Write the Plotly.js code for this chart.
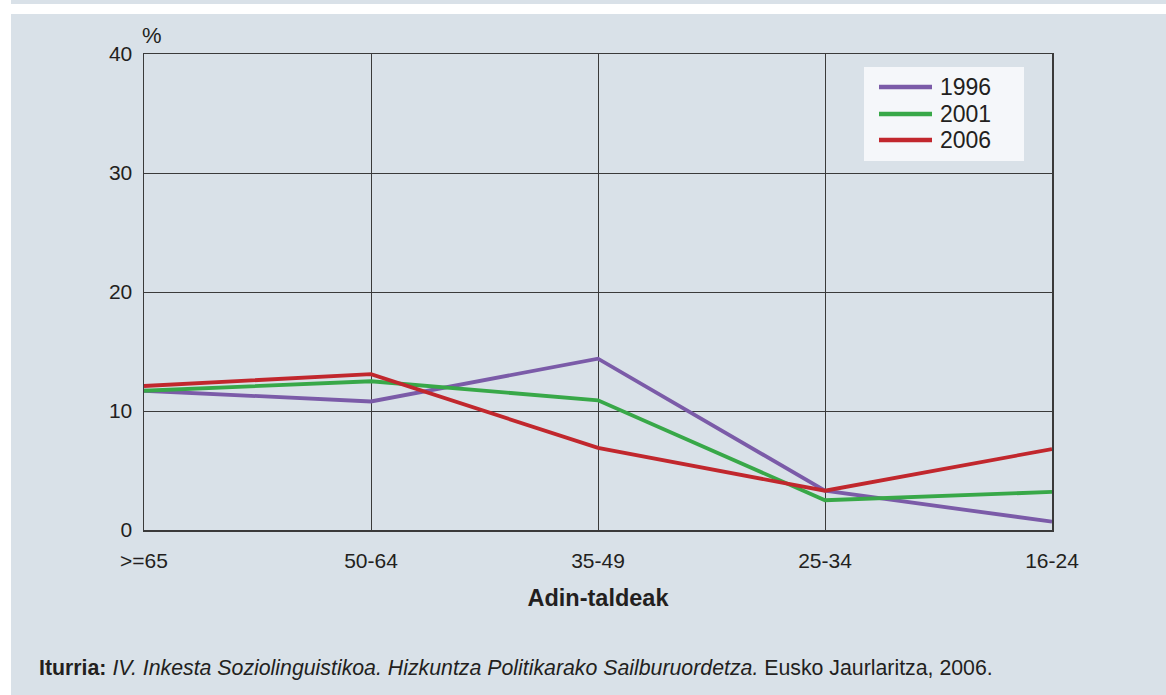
<!DOCTYPE html>
<html>
<head>
<meta charset="utf-8">
<script src="https://cdn.plot.ly/plotly-3.0.1.min.js"></script>
<style>
html,body{margin:0;padding:0;background:#fff;}
#chart{width:1166px;height:695px;}
</style>
</head>
<body>
<div id="chart"></div>
<script>
const categories = [">=65", "50-64", "35-49", "25-34", "16-24"];
const series1996 = [11.7, 10.8, 14.4, 3.3, 0.7];
const series2001 = [11.7, 12.5, 10.9, 2.5, 3.2];
const series2006 = [12.1, 13.1, 6.9, 3.3, 6.8];
const seriesNames = ["1996", "2001", "2006"];
const seriesColors = ["#7b5ba8", "#38a848", "#c1272d"];
const yTicks = [0, 10, 20, 30, 40];
const xTitle = "Adin-taldeak";
const yUnit = "%";
const sourceText = "<b>Iturria:</b> <i>IV. Inkesta Soziolinguistikoa. Hizkuntza Politikarako Sailburuordetza.</i> Eusko Jaurlaritza, 2006.";

const allSeries = [series1996, series2001, series2006];
const traces = allSeries.map((vals, i) => ({
  x: categories,
  y: vals,
  type: "scatter",
  mode: "lines",
  name: seriesNames[i],
  line: {color: seriesColors[i], width: 3.8}
}));

const W = 1166, H = 695;
const L = 144, R = 1052, T = 54, B = 530;
const pw = R - L, ph = B - T;
const px = v => (v - L) / pw;
const py = v => (B - v) / ph;
const font = "Liberation Sans, Arial, sans-serif";
const txt = "#231f20";
const bg = "#d9e1e8";

// custom legend box (shapes + annotations built from series names/colors)
const legShapes = [{type: "rect", xref: "paper", yref: "paper", layer: "above",
  x0: px(864), x1: px(1024), y0: py(161), y1: py(67),
  fillcolor: "#f5f7fa", line: {width: 0}}];
const legAnn = [];
const legRows = [87, 114, 140];
seriesNames.forEach((nm, i) => {
  legShapes.push({type: "line", xref: "paper", yref: "paper", layer: "above",
    x0: px(879), x1: px(932), y0: py(legRows[i]), y1: py(legRows[i]),
    line: {color: seriesColors[i], width: 4.5}});
  legAnn.push({xref: "paper", yref: "paper", x: px(938), y: py(legRows[i]),
    xanchor: "left", yanchor: "middle", text: nm, showarrow: false,
    font: {size: 23, color: txt, family: font}});
});

const layout = {
  width: W, height: H,
  margin: {l: L, r: W - R, t: T, b: H - B, pad: 0},
  paper_bgcolor: "#ffffff",
  plot_bgcolor: bg,
  font: {family: font, color: txt, size: 21},
  showlegend: false,
  xaxis: {
    type: "category",
    range: [0, 4],
    showgrid: true, gridcolor: "#3a3a3a", gridwidth: 1,
    showline: true, linecolor: "#3a3a3a", linewidth: 1.5, mirror: true,
    ticks: "", ticklabelstandoff: 11,
    tickfont: {size: 21, color: txt, family: font},
    zeroline: false,
    title: {text: "<b>" + xTitle + "</b>", font: {size: 23.5, color: txt, family: font}, standoff: 19},
    fixedrange: true
  },
  yaxis: {
    range: [0, 40],
    tickvals: yTicks,
    showgrid: true, gridcolor: "#3a3a3a", gridwidth: 1,
    showline: true, linecolor: "#3a3a3a", linewidth: 1.5, mirror: true,
    ticks: "", ticklabelstandoff: 6,
    tickfont: {size: 21, color: txt, family: font},
    zeroline: false,
    fixedrange: true
  },
  shapes: [
    {type: "rect", xref: "paper", yref: "paper", layer: "below",
     x0: px(11), x1: px(1166), y0: py(695), y1: py(14),
     fillcolor: bg, line: {width: 0}},
    {type: "rect", xref: "paper", yref: "paper", layer: "below",
     x0: px(11), x1: px(1166), y0: py(4), y1: py(0),
     fillcolor: bg, line: {width: 0}}
  ].concat(legShapes),
  annotations: [
    {xref: "paper", yref: "paper", x: px(140), y: py(36), xanchor: "left", yanchor: "middle",
     text: yUnit, showarrow: false, font: {size: 22, color: txt, family: font}},
    {xref: "paper", yref: "paper", x: px(37), y: py(668), xanchor: "left", yanchor: "middle",
     text: sourceText, showarrow: false, font: {size: 21.3, color: txt, family: font}}
  ].concat(legAnn)
};

Plotly.newPlot("chart", traces, layout, {displayModeBar: false, staticPlot: true});
</script>
</body>
</html>
